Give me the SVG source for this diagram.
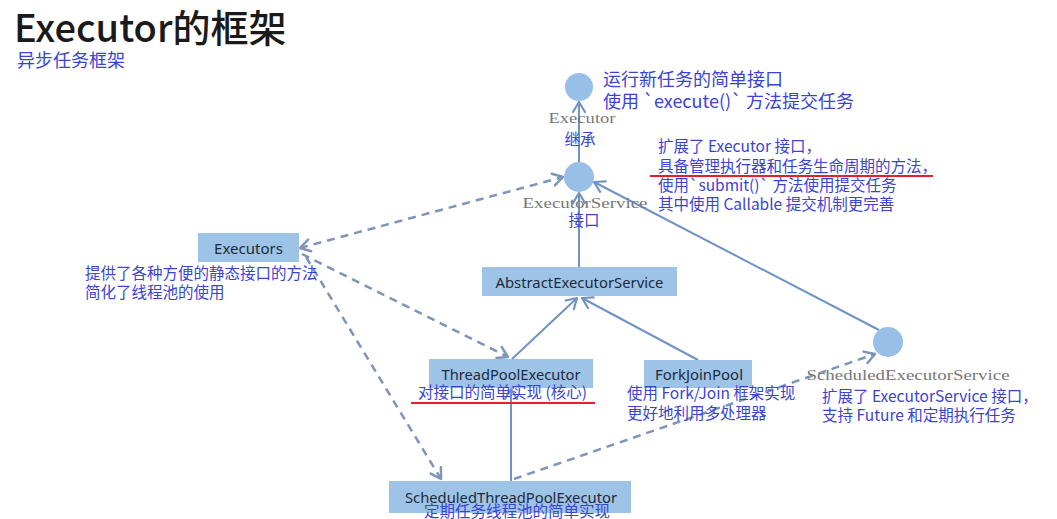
<svg xmlns="http://www.w3.org/2000/svg" width="1057" height="519" viewBox="0 0 1057 519">
<style>
.cjk{font-family:"Noto Sans CJK SC","Noto Sans",sans-serif}
.note{font-family:"Noto Sans CJK SC","Noto Sans",sans-serif;fill:#3b43d4;font-size:15.5px}
.big{font-size:18px}
.box{fill:#9dc3e6}
.circ{fill:#97bfe7}
.blabel{font-family:"Noto Sans","Noto Sans CJK SC",sans-serif;font-size:14.5px;fill:#1f2a3c;text-anchor:middle}
.mono{font-family:"Liberation Serif",serif;font-size:15px;fill:#777777;text-anchor:middle}
.solid{stroke:#6f93c3;stroke-width:2;fill:none}
.dash{stroke:#7d95b8;stroke-width:2.5;stroke-dasharray:8 6;fill:none}
.red{stroke:#e3202a;stroke-width:2}
</style>
<defs>
<marker id="as" viewBox="-12 -8 14 16" refX="0" refY="0" markerWidth="14" markerHeight="16" markerUnits="userSpaceOnUse" orient="auto-start-reverse">
<path d="M-10,-6 L0,0 L-10,6" fill="none" stroke="#6f93c3" stroke-width="2.2" stroke-linecap="round" stroke-linejoin="round"/>
</marker>
<marker id="ad" viewBox="-12 -8 14 16" refX="0" refY="0" markerWidth="14" markerHeight="16" markerUnits="userSpaceOnUse" orient="auto-start-reverse">
<path d="M-10,-6 L0,0 L-10,6" fill="none" stroke="#7d95b8" stroke-width="2.5" stroke-linecap="round" stroke-linejoin="round"/>
</marker>
</defs>
<rect width="1057" height="519" fill="#ffffff"/>
<text x="14" y="42" class="cjk" style="font-size:38px;font-weight:500" fill="#1a1a1a">Executor的框架</text>
<text x="17" y="67" class="note" style="font-size:18px">异步任务框架</text>

<g id="connectors">
<line class="solid" x1="579" y1="162" x2="579" y2="102" marker-end="url(#as)"/>
<line class="solid" x1="579" y1="267" x2="579" y2="193" marker-end="url(#as)"/>
<line class="solid" x1="512" y1="359" x2="577" y2="298" marker-end="url(#as)"/>
<line class="solid" x1="698" y1="360" x2="582" y2="298" marker-end="url(#as)"/>
<line class="solid" x1="879" y1="330" x2="594" y2="182" marker-end="url(#as)"/>
<line class="solid" x1="511" y1="481" x2="511" y2="389" marker-end="url(#as)"/>
<line class="dash" x1="300" y1="248" x2="563" y2="177" marker-start="url(#ad)" marker-end="url(#ad)"/>
<line class="dash" x1="302" y1="254" x2="508" y2="357" marker-end="url(#ad)"/>
<line class="dash" x1="306" y1="257" x2="441" y2="479" marker-end="url(#ad)"/>
<line class="dash" x1="514" y1="479" x2="875" y2="354" marker-end="url(#ad)"/>
</g>

<g id="executor">
<circle class="circ" cx="579" cy="87" r="14"/>
<text class="mono" x="582" y="123" textLength="67" lengthAdjust="spacingAndGlyphs">Executor</text>
<text class="note big" x="603" y="86">运行新任务的简单接口</text>
<text class="note big" x="603" y="108">使用 `execute()` 方法提交任务</text>
<text class="note" x="580" y="145" text-anchor="middle">继承</text>
</g>

<g id="executorservice">
<circle class="circ" cx="579" cy="177" r="15"/>
<text class="mono" x="585" y="208" textLength="125" lengthAdjust="spacingAndGlyphs">ExecutorService</text>
<text class="note" x="584" y="226" text-anchor="middle">接口</text>
<text class="note" x="658" y="152">扩展了 Executor 接口，</text>
<text class="note" x="658" y="172">具备管理执行器和任务生命周期的方法，</text>
<line class="red" x1="650" y1="176" x2="933" y2="176"/>
<text class="note" x="658" y="191">使用`submit()` 方法使用提交任务</text>
<text class="note" x="658" y="210">其中使用 Callable 提交机制更完善</text>
</g>

<g id="executors">
<rect class="box" x="198" y="233" width="101" height="29"/>
<text class="blabel" x="248.5" y="254" style="font-size:15px">Executors</text>
<text class="note" x="85" y="279">提供了各种方便的静态接口的方法</text>
<text class="note" x="85" y="298">简化了线程池的使用</text>
</g>

<g id="abstractexecutorservice">
<rect class="box" x="482" y="267" width="195" height="29"/>
<text class="blabel" x="579.5" y="288" textLength="168" lengthAdjust="spacingAndGlyphs">AbstractExecutorService</text>
</g>

<g id="threadpoolexecutor">
<rect class="box" x="429" y="359" width="164" height="29"/>
<text class="blabel" x="511" y="380" textLength="139" lengthAdjust="spacingAndGlyphs">ThreadPoolExecutor</text>
<text class="note" x="418" y="398">对接口的简单实现 (核心)</text>
<line class="red" x1="411" y1="403" x2="595" y2="403"/>
</g>

<g id="forkjoinpool">
<rect class="box" x="644" y="360" width="108" height="28"/>
<text class="blabel" x="699" y="380" textLength="88" lengthAdjust="spacingAndGlyphs">ForkJoinPool</text>
<text class="note" x="627" y="399">使用 Fork/Join 框架实现</text>
<text class="note" x="627" y="419">更好地利用多处理器</text>
</g>

<g id="scheduledexecutorservice">
<circle class="circ" cx="888" cy="342" r="15"/>
<text class="mono" x="908" y="380" textLength="203" lengthAdjust="spacingAndGlyphs">ScheduledExecutorService</text>
<text class="note" x="822" y="402">扩展了 ExecutorService 接口，</text>
<text class="note" x="822" y="421">支持 Future 和定期执行任务</text>
</g>

<g id="scheduledthreadpoolexecutor">
<rect class="box" x="389" y="481" width="242" height="32"/>
<text class="blabel" x="511" y="503" textLength="212" lengthAdjust="spacingAndGlyphs">ScheduledThreadPoolExecutor</text>
<text class="note" x="517" y="517" text-anchor="middle">定期任务线程池的简单实现</text>
</g>
</svg>
